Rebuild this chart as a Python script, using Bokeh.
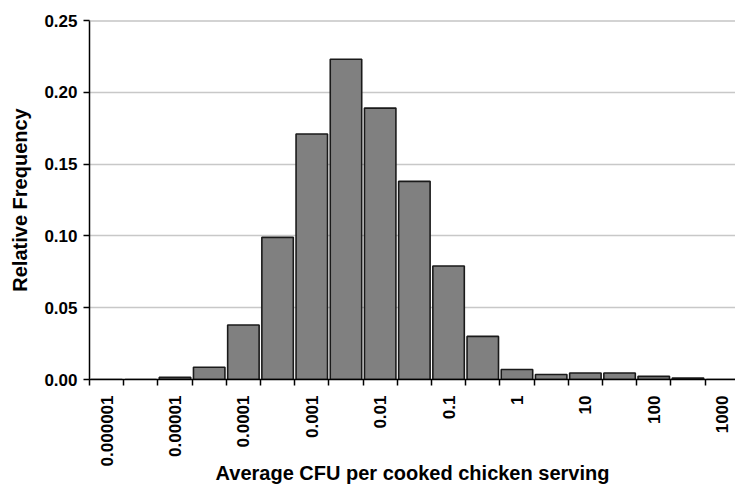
from math import pi
from bokeh.plotting import figure
from bokeh.models import FixedTicker, ColumnDataSource, Span, PrintfTickFormatter
from bokeh.embed import file_html
from bokeh.resources import INLINE

# Bins (half-decade classes); only every other class carries a label
bin_labels = ["0.000001", "", "0.00001", "", "0.0001", "", "0.001", "", "0.01", "",
              "0.1", "", "1", "", "10", "", "100", "", "1000"]
rel_freq = [0.0, 0.0, 0.0015, 0.0085, 0.038, 0.099, 0.171, 0.223, 0.189, 0.138,
            0.079, 0.030, 0.007, 0.0035, 0.0045, 0.0045, 0.0022, 0.001, 0.0]
y_ticks = [0.0, 0.05, 0.10, 0.15, 0.20, 0.25]

x_title = "Average CFU per cooked chicken serving"
y_title = "Relative Frequency"

n = len(bin_labels)
centers = [i + 0.5 for i in range(n)]
edges = list(range(n + 1))

src = ColumnDataSource(dict(x=centers, top=rel_freq))

FONT = "Liberation Sans"

p = figure(width=735, height=487, output_backend="svg", toolbar_location=None,
           x_range=(0, 18.89), y_range=(0, 0.25),
           min_border_left=89, min_border_right=0, min_border_top=20,
           x_axis_label=x_title, y_axis_label=y_title)
p.outline_line_color = None
p.background_fill_color = "white"
p.border_fill_color = "white"

p.xgrid.visible = False
p.ygrid.ticker = FixedTicker(ticks=y_ticks)
p.ygrid.grid_line_color = "#c8c8c8"
p.ygrid.grid_line_width = 1.5

p.add_layout(Span(location=y_ticks[-1], dimension="width", line_color="#a8a8a8", line_width=2))

p.vbar(x="x", top="top", bottom=0, width=0.92, source=src,
       fill_color="#808080", line_color="#1a1a1a", line_width=1.6)

# X axis
xa = p.xaxis[0]
label_pos = [c for c, l in zip(centers, bin_labels) if l]
xa.ticker = FixedTicker(ticks=label_pos, minor_ticks=edges)
xa.major_label_overrides = {c: l for c, l in zip(centers, bin_labels) if l}
xa.major_label_orientation = pi / 2
xa.major_tick_out = 0
xa.major_tick_in = 0
xa.minor_tick_out = 6
xa.minor_tick_in = 0
xa.minor_tick_line_color = "black"
xa.minor_tick_line_width = 1.5
xa.axis_line_color = "black"
xa.axis_line_width = 1.5
xa.major_label_standoff = 10
xa.major_label_text_font = FONT
xa.major_label_text_font_style = "bold"
xa.major_label_text_font_size = "17px"
xa.major_label_text_color = "black"
xa.axis_label_text_font = FONT
xa.axis_label_text_font_style = "bold"
xa.axis_label_text_font_size = "20px"
xa.axis_label_text_color = "black"
xa.axis_label_standoff = -7

# Y axis
ya = p.yaxis[0]
ya.ticker = FixedTicker(ticks=y_ticks)
ya.formatter = PrintfTickFormatter(format="%.2f")
ya.major_tick_out = 6
ya.major_tick_in = 0
ya.minor_tick_out = 0
ya.minor_tick_in = 0
ya.major_tick_line_color = "black"
ya.major_tick_line_width = 1.5
ya.axis_line_color = "black"
ya.axis_line_width = 1.5
ya.major_label_standoff = 6
ya.major_label_text_font = FONT
ya.major_label_text_font_style = "bold"
ya.major_label_text_font_size = "17px"
ya.major_label_text_color = "black"
ya.axis_label_text_font = FONT
ya.axis_label_text_font_style = "bold"
ya.axis_label_text_font_size = "20px"
ya.axis_label_text_color = "black"
ya.axis_label_standoff = 10

open("out.html", "w").write(file_html(p, INLINE))
